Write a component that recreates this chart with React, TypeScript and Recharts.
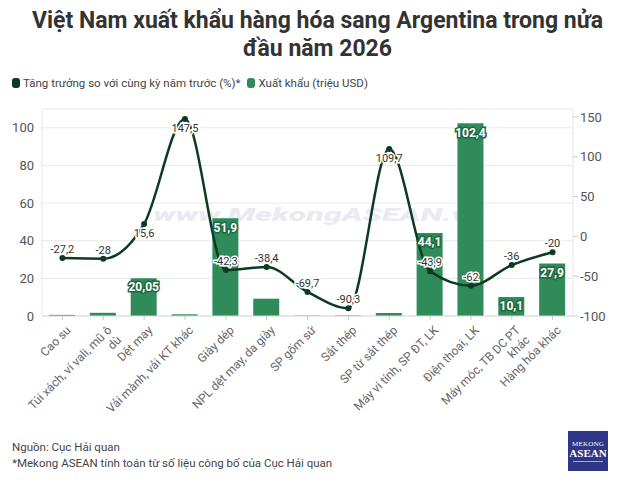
import React from 'react';
import { ComposedChart, Bar, Line, XAxis, YAxis, CartesianGrid, LabelList } from 'recharts';

const categories = [
  'Cao su',
  'Túi xách, ví vali, mũ ô dù',
  'Dệt may',
  'Vải mành, vải KT khác',
  'Giày dép',
  'NPL dệt may, da giày',
  'SP gốm sứ',
  'Sắt thép',
  'SP từ sắt thép',
  'Máy vi tính, SP ĐT, LK',
  'Điện thoại, LK',
  'Máy móc, TB DC PT khác',
  'Hàng hóa khác',
];
const tickLabels = [
  'Cao su',
  'Túi xách, ví vali, mũ ô\ndù',
  'Dệt may',
  'Vải mành, vải KT khác',
  'Giày dép',
  'NPL dệt may, da giày',
  'SP gốm sứ',
  'Sắt thép',
  'SP từ sắt thép',
  'Máy vi tính, SP ĐT, LK',
  'Điện thoại, LK',
  'Máy móc, TB DC PT\nkhác',
  'Hàng hóa khác',
];
const exportValues = [0.6, 1.7, 20.05, 0.9, 51.9, 9.2, 0.2, 0.3, 1.6, 44.1, 102.4, 10.1, 27.9];
const growthValues = [-27.2, -28, 15.6, 147.5, -42.3, -38.4, -69.7, -90.3, 109.7, -43.9, -62, -36, -20];
const leftTicks = [0, 20, 40, 60, 80, 100];
const rightTicks = [-100, -50, 0, 50, 100, 150];

const data = categories.map((c, i) => ({ name: c, exp: exportValues[i], growth: growthValues[i] }));

const FONT = 'Roboto, "Noto Sans", sans-serif';
const BAR = '#2f8b5a';
const LINE = '#0d3a22';

const fmt = (v: number) => String(v).replace('.', ',');

const XTick = (props: any) => {
  const { x, y, payload } = props;
  const lines = tickLabels[payload.index].split('\n');
  return (
    <g transform={`translate(${x + 3},${y + 3}) rotate(-45)`}>
      <text textAnchor="end" fontSize={12} fill="#666" fontFamily={FONT}>
        {lines.map((l, i) => (
          <tspan key={i} x={0} dy={i === 0 ? '0.71em' : '1.15em'}>{l}</tspan>
        ))}
      </text>
    </g>
  );
};

const BarLabel = (props: any) => {
  const { x, y, width, value } = props;
  if (value < 10) return null;
  return (
    <text
      x={x + width / 2}
      y={y + 9}
      dy="0.35em"
      textAnchor="middle"
      fontSize={12}
      fontWeight={700}
      fill="#fff"
      stroke="#1d6a40"
      strokeWidth={3}
      paintOrder="stroke"
      fontFamily={FONT}
    >
      {fmt(value)}
    </text>
  );
};

const LineLabel = (props: any) => {
  const { x, y, value } = props;
  const below = value > 0;
  return (
    <text
      x={x}
      y={below ? y + 9 : y - 9}
      dy="0.35em"
      textAnchor="middle"
      fontSize={11}
      fill="#333"
      stroke="#fff"
      strokeWidth={3}
      paintOrder="stroke"
      fontFamily={FONT}
    >
      {fmt(value)}
    </text>
  );
};

export default function App() {
  return (
    <div style={{ position: 'absolute', left: 0, top: 0, width: 635, height: 485, background: '#fff', fontFamily: FONT, overflow: 'hidden' }}>
      <div style={{ position: 'absolute', left: 0, top: 7, width: 635, textAlign: 'center', fontSize: 23, fontWeight: 700, lineHeight: '28px', color: '#333' }}>
        Việt Nam xuất khẩu hàng hóa sang Argentina trong nửa<br />đầu năm 2026
      </div>
      <div style={{ position: 'absolute', left: 12, top: 76, fontSize: 11.5, color: '#444', display: 'flex', alignItems: 'center', whiteSpace: 'nowrap' }}>
        <span style={{ display: 'inline-block', width: 8, height: 10, borderRadius: 3, background: LINE, marginRight: 3 }} />
        <span>Tăng trưởng so với cùng kỳ năm trước (%)*</span>
        <span style={{ display: 'inline-block', width: 8, height: 10, borderRadius: 3, background: BAR, marginLeft: 7, marginRight: 3 }} />
        <span>Xuất khẩu (triệu USD)</span>
      </div>
      <svg width={635} height={485} style={{ position: 'absolute', left: 0, top: 0 }}>
        <text
          x={153}
          y={221}
          textLength={332}
          lengthAdjust="spacingAndGlyphs"
          fontSize={19}
          fontWeight={900}
          fontStyle="italic"
          fill="#eaeaf2"
          fontFamily={FONT}
        >
          www.MekongASEAN.vn
        </text>
      </svg>
      <div style={{ position: 'absolute', left: 0, top: 0 }}>
        <ComposedChart width={635} height={485} data={data} margin={{ top: 109, right: 0, left: 0, bottom: 139 }}>
          <CartesianGrid yAxisId="left" vertical={false} stroke="#e8e8e8" />
          <XAxis
            dataKey="name"
            interval={0}
            height={30}
            tickSize={4}
            tickLine={{ stroke: '#ccc' }}
            axisLine={{ stroke: '#ddd' }}
            tick={<XTick />}
          />
          <YAxis
            yAxisId="left"
            orientation="left"
            width={42}
            domain={[0, 110]}
            ticks={leftTicks}
            tickLine={false}
            axisLine={{ stroke: '#e6e6e6' }}
            tick={{ fontSize: 13, fill: '#555', fontFamily: FONT }}
          />
          <YAxis
            yAxisId="right"
            orientation="right"
            width={62}
            domain={[-100, 160]}
            ticks={rightTicks}
            tickSize={5}
            tickLine={{ stroke: '#ccc' }}
            axisLine={{ stroke: '#e6e6e6' }}
            tick={{ fontSize: 13, fill: '#555', fontFamily: FONT }}
          />
          <Bar yAxisId="left" dataKey="exp" fill={BAR} barSize={26} isAnimationActive={false}>
            <LabelList dataKey="exp" content={<BarLabel />} />
          </Bar>
          <Line
            yAxisId="right"
            dataKey="growth"
            type="monotone"
            stroke={LINE}
            strokeWidth={2.5}
            dot={{ r: 3, fill: LINE, stroke: LINE, strokeWidth: 0 }}
            activeDot={false}
            isAnimationActive={false}
          >
            <LabelList dataKey="growth" content={<LineLabel />} />
          </Line>
        </ComposedChart>
      </div>
      <div style={{ position: 'absolute', left: 12, top: 439, fontSize: 11.5, color: '#444', lineHeight: '16px' }}>
        Nguồn: Cục Hải quan<br />*Mekong ASEAN tính toán từ số liệu công bố của Cục Hải quan
      </div>
      <div style={{ position: 'absolute', left: 568, top: 431, width: 40, height: 40, background: '#2e3685', color: '#fff', fontFamily: '"Liberation Serif", serif', textAlign: 'center' }}>
        <div style={{ fontSize: 7, marginTop: 9, letterSpacing: 0.2 }}>MEKONG</div>
        <div style={{ fontSize: 11, fontWeight: 700, lineHeight: '11px' }}>ASEAN</div>
        <div style={{ height: 1, background: '#aab', margin: '2px 5px 0' }} />
      </div>
    </div>
  );
}
